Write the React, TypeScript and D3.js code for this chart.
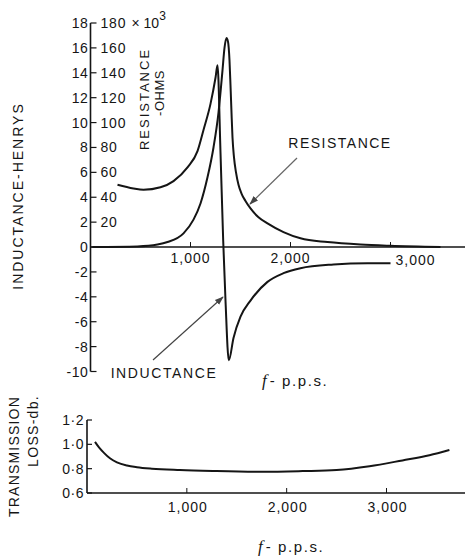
import React from "react";
import * as d3 from "d3";

// ---------- Data ----------
// Top chart: frequency (p.p.s.)
const inductanceFreq = [270, 430, 530, 700, 830, 970, 1070, 1130, 1200, 1250, 1270, 1300, 1327, 1350, 1383, 1430, 1500, 1600, 1770, 1930, 2100, 2430, 2770, 3000];
const inductanceHenrys = [5.0, 4.7, 4.6, 4.8, 5.3, 6.4, 7.7, 9.4, 11.5, 13.6, 14.6, 7.6, 0.5, -4.3, -9.1, -7.3, -5.6, -4.3, -2.8, -2.1, -1.7, -1.4, -1.3, -1.3];

const resistanceFreq = [20, 470, 670, 770, 930, 1030, 1100, 1170, 1230, 1280, 1320, 1340, 1360, 1375, 1390, 1400, 1410, 1420, 1435, 1455, 1480, 1510, 1550, 1600, 1680, 1770, 1930, 2100, 2370, 2700, 3000, 3500];
const resistanceKOhms = [0, 0.5, 2, 4, 11, 22, 35, 56, 80, 108, 142, 160, 168, 165, 150, 130, 108, 88, 72, 60, 50, 43, 37, 31, 24, 19, 12, 7, 4, 2, 1, 0];

// Bottom chart
const lossFreq = [80, 120, 170, 230, 300, 400, 500, 650, 930, 1260, 1760, 2160, 2500, 2830, 3160, 3430, 3630];
const lossDb = [1.02, 0.975, 0.93, 0.885, 0.852, 0.826, 0.812, 0.8, 0.789, 0.781, 0.774, 0.78, 0.789, 0.82, 0.868, 0.91, 0.953];

// Tick labels
const henryTicks = [18, 16, 14, 12, 10, 8, 6, 4, 2, 0, -2, -4, -6, -8, -10];
const ohmTicks = [180, 160, 140, 120, 100, 80, 60, 40, 20];
const freqTicks = [1000, 2000, 3000];
const freqTickLabels = ["1,000", "2,000", "3,000"];
const lossTicks = [1.2, 1.0, 0.8, 0.6];
const lossTickLabels = ["1·2", "1·0", "0·8", "0·6"];

const FONT = "'Liberation Sans', Arial, Helvetica, sans-serif";
const INK = "#151515";

export default function App() {
  // Top scales
  const xTop = d3.scaleLinear().domain([0, 3000]).range([90.5, 390.5]);
  const yH = d3.scaleLinear().domain([-10, 18]).range([371.5, 23]);
  const yR = d3.scaleLinear().domain([-100, 180]).range([371.5, 23]);

  // Bottom scales
  const xBot = d3.scaleLinear().domain([0, 3000]).range([87, 386.5]);
  const yBot = d3.scaleLinear().domain([0.6, 1.2]).range([493, 420]);

  const indLine = d3
    .line<number>()
    .x((_, i) => xTop(inductanceFreq[i]))
    .y((d) => yH(d))
    .curve(d3.curveMonotoneX);
  const resLine = d3
    .line<number>()
    .x((_, i) => xTop(resistanceFreq[i]))
    .y((d) => yR(d))
    .curve(d3.curveMonotoneX);
  const lossLine = d3
    .line<number>()
    .x((_, i) => xBot(lossFreq[i]))
    .y((d) => yBot(d))
    .curve(d3.curveMonotoneX);

  const ax = xTop(0);
  const y0 = yH(0);
  const bx = xBot(0);
  const by = yBot(0.6);

  return (
    <svg width={465} height={558} style={{ position: "absolute", left: 0, top: 0, background: "#fff" }} fontFamily={FONT}>
      <defs>
        <marker id="arr" viewBox="0 0 10 10" refX="9" refY="5" markerWidth="9" markerHeight="9" orient="auto" markerUnits="userSpaceOnUse">
          <path d="M0,1.5 L10,5 L0,8.5 Z" fill="#444" />
        </marker>
      </defs>

      {/* ---------- Top chart ---------- */}
      <line x1={ax} y1={yH(18)} x2={ax} y2={yH(-10)} stroke={INK} strokeWidth={1.6} />
      {henryTicks.map((t) => (
        <g key={"h" + t}>
          <line x1={ax} x2={ax + 6} y1={yH(t)} y2={yH(t)} stroke={INK} strokeWidth={1.2} />
          <text x={ax - 2} y={yH(t) + 5} textAnchor="end" fontSize={14} letterSpacing={0.6} fill={INK}>
            {t}
          </text>
        </g>
      ))}
      {ohmTicks.map((t) => (
        <text key={"o" + t} x={ax + 10} y={yR(t) + 5} fontSize={14} letterSpacing={0.8} fill={INK}>
          {t}
        </text>
      ))}
      <text x={ax + 41} y={yR(180) + 5} fontSize={14} fill={INK}>
        × 10
        <tspan dy={-8} fontSize={12}>3</tspan>
      </text>

      {/* x axis */}
      <line x1={ax} y1={y0} x2={465} y2={y0} stroke={INK} strokeWidth={1.6} />
      {freqTicks.map((f) => (
        <line key={"ft" + f} x1={xTop(f)} x2={xTop(f)} y1={y0} y2={y0 - 5} stroke={INK} strokeWidth={1} />
      ))}
      {freqTicks.map((f, i) => (
        <text
          key={"fl" + f}
          x={xTop(f) + (i === 2 ? 25 : 0)}
          y={y0 + (i === 2 ? 18 : 16)}
          textAnchor="middle"
          fontSize={14}
          letterSpacing={1}
          fill={INK}
        >
          {freqTickLabels[i]}
        </text>
      ))}

      {/* curves */}
      <path d={indLine(inductanceHenrys) || ""} fill="none" stroke={INK} strokeWidth={2} strokeLinejoin="round" />
      <path d={resLine(resistanceKOhms) || ""} fill="none" stroke={INK} strokeWidth={2} strokeLinejoin="round" />

      {/* axis titles */}
      <text transform={`translate(23,196) rotate(-90)`} textAnchor="middle" fontSize={14} letterSpacing={2} fill={INK}>
        INDUCTANCE-HENRYS
      </text>
      <text transform={`translate(149,99) rotate(-90)`} textAnchor="middle" fontSize={13} letterSpacing={2} fill={INK}>
        RESISTANCE
      </text>
      <text transform={`translate(164,93) rotate(-90)`} textAnchor="middle" fontSize={13} letterSpacing={0.5} fill={INK}>
        -OHMS
      </text>

      {/* annotations */}
      <text x={340} y={148} textAnchor="middle" fontSize={14} letterSpacing={1.5} fill={INK}>
        RESISTANCE
      </text>
      <line x1={297} y1={158} x2={250} y2={204} stroke="#666" strokeWidth={1.2} markerEnd="url(#arr)" />
      <text x={164} y={378} textAnchor="middle" fontSize={14} letterSpacing={1.6} fill={INK}>
        INDUCTANCE
      </text>
      <line x1={153} y1={360} x2={223} y2={297} stroke="#444" strokeWidth={1.2} markerEnd="url(#arr)" />

      <text x={262} y={386} fontSize={15} fill={INK}>
        <tspan fontFamily="'Liberation Serif', serif" fontStyle="italic" fontSize={17}>
          f
        </tspan>
        <tspan dx={3} letterSpacing={1.6}>- p.p.s.</tspan>
      </text>

      {/* ---------- Bottom chart ---------- */}
      <line x1={bx} y1={yBot(1.2)} x2={bx} y2={by} stroke={INK} strokeWidth={1.6} />
      <line x1={bx} y1={by} x2={465} y2={by} stroke={INK} strokeWidth={1.6} />
      {lossTicks.map((t, i) => (
        <g key={"l" + t}>
          <line x1={bx} x2={bx + 5} y1={yBot(t)} y2={yBot(t)} stroke={INK} strokeWidth={1.2} />
          <text x={bx - 3} y={yBot(t) + 5} textAnchor="end" fontSize={14} letterSpacing={0.5} fill={INK}>
            {lossTickLabels[i]}
          </text>
        </g>
      ))}
      {freqTicks.map((f, i) => (
        <g key={"bt" + f}>
          <line x1={xBot(f)} x2={xBot(f)} y1={by} y2={by - 5} stroke={INK} strokeWidth={1} />
          <text x={xBot(f) + 1} y={by + 19} textAnchor="middle" fontSize={14} letterSpacing={1} fill={INK}>
            {freqTickLabels[i]}
          </text>
        </g>
      ))}
      <path d={lossLine(lossDb) || ""} fill="none" stroke={INK} strokeWidth={2} strokeLinejoin="round" />

      <text transform={`translate(19,396) rotate(-90)`} textAnchor="end" fontSize={14} letterSpacing={1.2} fill={INK}>
        TRANSMISSION
      </text>
      <text transform={`translate(38,395) rotate(-90)`} textAnchor="end" fontSize={14} letterSpacing={1.3} fill={INK}>
        LOSS-db.
      </text>
      <text x={258} y={552} fontSize={15} fill={INK}>
        <tspan fontFamily="'Liberation Serif', serif" fontStyle="italic" fontSize={17}>
          f
        </tspan>
        <tspan dx={3} letterSpacing={1.6}>- p.p.s.</tspan>
      </text>
    </svg>
  );
}
